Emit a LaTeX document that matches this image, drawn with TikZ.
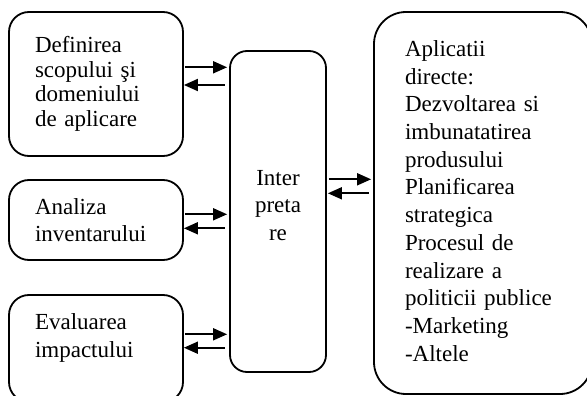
\documentclass[tikz,border=0pt]{standalone}
\usepackage{fontspec}
\setmainfont{Liberation Serif}
\usetikzlibrary{arrows.meta}

\begin{document}
\begin{tikzpicture}[x=1pt, y=-1pt, >={Triangle[length=14pt,width=12pt]},
box/.style={rectangle, draw, line width=1.8pt, rounded corners=20pt, text width=122pt, inner xsep=26pt, inner ysep=0pt, align=left},
link/.style={line width=1.8pt},
]
\useasboundingbox (0,0) rectangle (587,396);
\clip (0,0) rectangle (587,396);
%left column
\node (scope) [box, minimum height=144pt, font=\fontsize{23}{24.5}\selectfont] at (96,84) {Definirea\\
                         scopului şi\\
                         domeniului\\
                         de aplicare};
\node (inventory) [box, minimum height=80pt, font=\fontsize{23}{26.5}\selectfont] at (96,220) {Analiza\\
                         inventarului};
\node (impact) [box, minimum height=107pt, text depth=53pt, font=\fontsize{23}{28}\selectfont] at (96,348.5) {Evaluarea\\
                         impactului};
%middle
\node (interp) [box, rounded corners=17pt, text width=96pt, inner xsep=0pt, align=center, minimum height=321pt, text depth=68pt, font=\fontsize{23}{27.5}\selectfont] at (278,211.5) {Inter\\
                         preta\\
                         re};
%right
\node (appl) [box, rounded corners=32pt, text width=156pt, inner xsep=31pt, minimum height=382pt, text depth=309pt, font=\fontsize{23}{27.7}\selectfont] at (483,203) {Aplicatii\\
                         directe:\\
                         Dezvoltarea si\\
                         imbunatatirea\\
                         produsului\\
                         Planificarea\\
                         strategica\\
                         Procesul de\\
                         realizare a\\
                         politicii publice\\
                         -Marketing\\
                         -Altele};
\draw [link,->,shorten <=1pt,shorten >=2pt] ([yshift=16.7pt]scope.east) -- ([yshift=16.7pt]scope.east -| interp.west);
\draw [link,<-,shorten >=4pt] ([yshift=-1pt]scope.east) -- ([yshift=-1pt]scope.east -| interp.west);
\draw [link,->,shorten <=1pt,shorten >=2pt] ([yshift=5.7pt]inventory.east) -- ([yshift=5.7pt]inventory.east -| interp.west);
\draw [link,<-,shorten >=4pt] ([yshift=-8.3pt]inventory.east) -- ([yshift=-8.3pt]inventory.east -| interp.west);
\draw [link,->,shorten <=1pt,shorten >=2pt] ([yshift=14.2pt]impact.east) -- ([yshift=14.2pt]impact.east -| interp.west);
\draw [link,<-,shorten >=4pt] ([yshift=0.8pt]impact.east) -- ([yshift=0.8pt]impact.east -| interp.west);
\draw [link,->,shorten <=2pt,shorten >=2pt] ([yshift=32.2pt]interp.east) -- ([yshift=32.2pt]interp.east -| appl.west);
\draw [link,<-,shorten <=1pt,shorten >=4pt] ([yshift=18.2pt]interp.east) -- ([yshift=18.2pt]interp.east -| appl.west);
\end{tikzpicture}
\end{document}
